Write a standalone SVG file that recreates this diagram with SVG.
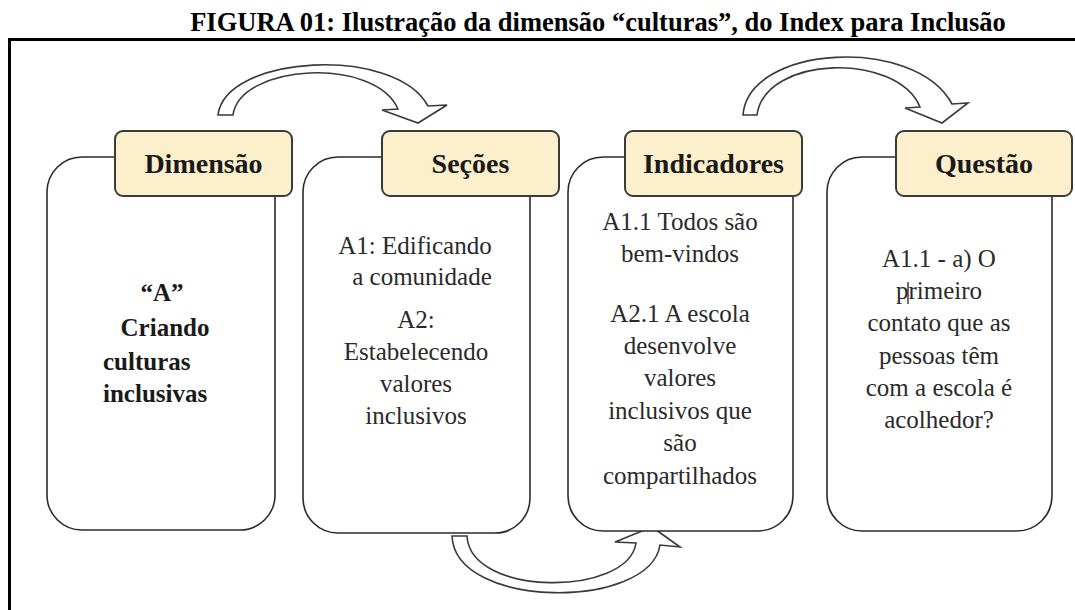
<svg xmlns="http://www.w3.org/2000/svg" width="1075" height="610" viewBox="0 0 1075 610">
<style>
.title{font-family:'Liberation Serif','Times New Roman',serif;font-weight:bold;font-size:26.5px;fill:#000;text-anchor:middle}
.box{fill:#fff;stroke:#2b2b2b;stroke-width:1.6}
.hdr{fill:#fcefcb;stroke:#3a3a3a;stroke-width:2}
.htxt{font-family:'Liberation Serif','Times New Roman',serif;font-weight:bold;font-size:28px;fill:#1a1a1a;text-anchor:middle}
.btxt{font-family:'Liberation Serif','Times New Roman',serif;font-weight:bold;font-size:25px;fill:#1a1a1a}
.rtxt{font-family:'Liberation Serif','Times New Roman',serif;font-size:25px;fill:#2a2a2a;text-anchor:middle}
.arr{fill:#fff;stroke:#3a3a3a;stroke-width:1.6;stroke-linejoin:miter}
</style>
<rect width="1075" height="610" fill="#fff"/>
<text class="title" x="598" y="31">FIGURA 01: Ilustração da dimensão “culturas”, do Index para Inclusão</text>
<path d="M9.5,610 V39.5 H1075" fill="none" stroke="#000" stroke-width="3"/>

<g id="connectors">
  <path class="arr" d="M218,115 C225,55 395,45 428,106 L447,105 L418,123 L382,110 L398,109 C375,56 240,64 233,115 Z"/>
  <path class="arr" d="M743,115 C748,45 915,35 952,104 L968,103 L942,123 L905,108 L920,107 C897,52 765,55 757,115 Z"/>
  <path class="arr" d="M452,536 C455,610 650,610 660,545 L680,547 L652,527 L615,542 L636,543 C628,597 470,597 467,536 Z"/>
</g>

<g id="node-dimensao">
  <rect class="box" x="47" y="157" width="228" height="373" rx="35" ry="35"/>
  <rect class="hdr" x="115" y="131" width="177" height="65" rx="8" ry="8"/>
  <text class="htxt" x="203.5" y="173">Dimensão</text>
  <text class="btxt" x="162" y="301" text-anchor="middle">“A”</text>
  <text class="btxt" x="165" y="336" text-anchor="middle">Criando</text>
  <text class="btxt" x="103" y="370">culturas</text>
  <text class="btxt" x="103" y="402">inclusivas</text>
</g>

<g id="node-secoes">
  <rect class="box" x="303" y="157" width="227" height="376" rx="35" ry="35"/>
  <rect class="hdr" x="382" y="131" width="177" height="65" rx="8" ry="8"/>
  <text class="htxt" x="470.5" y="173">Seções</text>
  <text class="rtxt" x="415" y="254">A1: Edificando</text>
  <text class="rtxt" x="422" y="285">a comunidade</text>
  <text class="rtxt" x="416" y="328">A2:</text>
  <text class="rtxt" x="416" y="360">Estabelecendo</text>
  <text class="rtxt" x="416" y="392">valores</text>
  <text class="rtxt" x="416" y="424">inclusivos</text>
</g>

<g id="node-indicadores">
  <rect class="box" x="568" y="157" width="225" height="374" rx="35" ry="35"/>
  <rect class="hdr" x="625" y="131" width="177" height="65" rx="8" ry="8"/>
  <text class="htxt" x="713.5" y="173">Indicadores</text>
  <text class="rtxt" x="680" y="230">A1.1 Todos são</text>
  <text class="rtxt" x="680" y="262">bem-vindos</text>
  <text class="rtxt" x="680" y="322">A2.1 A escola</text>
  <text class="rtxt" x="680" y="354">desenvolve</text>
  <text class="rtxt" x="680" y="386">valores</text>
  <text class="rtxt" x="680" y="419">inclusivos que</text>
  <text class="rtxt" x="680" y="451">são</text>
  <text class="rtxt" x="680" y="484">compartilhados</text>
</g>

<g id="node-questao">
  <rect class="box" x="827" y="157" width="225" height="374" rx="35" ry="35"/>
  <rect class="hdr" x="896" y="131" width="176" height="65" rx="8" ry="8"/>
  <text class="htxt" x="984" y="173">Questão</text>
  <text class="rtxt" x="939" y="267">A1.1 - a) O</text>
  <text class="rtxt" x="939" y="299">primeiro</text>
  <line x1="908" y1="282" x2="908" y2="304" stroke="#222" stroke-width="1.3"/>
  <text class="rtxt" x="939" y="331">contato que as</text>
  <text class="rtxt" x="939" y="364">pessoas têm</text>
  <text class="rtxt" x="939" y="396">com a escola é</text>
  <text class="rtxt" x="939" y="428">acolhedor?</text>
</g>
</svg>
